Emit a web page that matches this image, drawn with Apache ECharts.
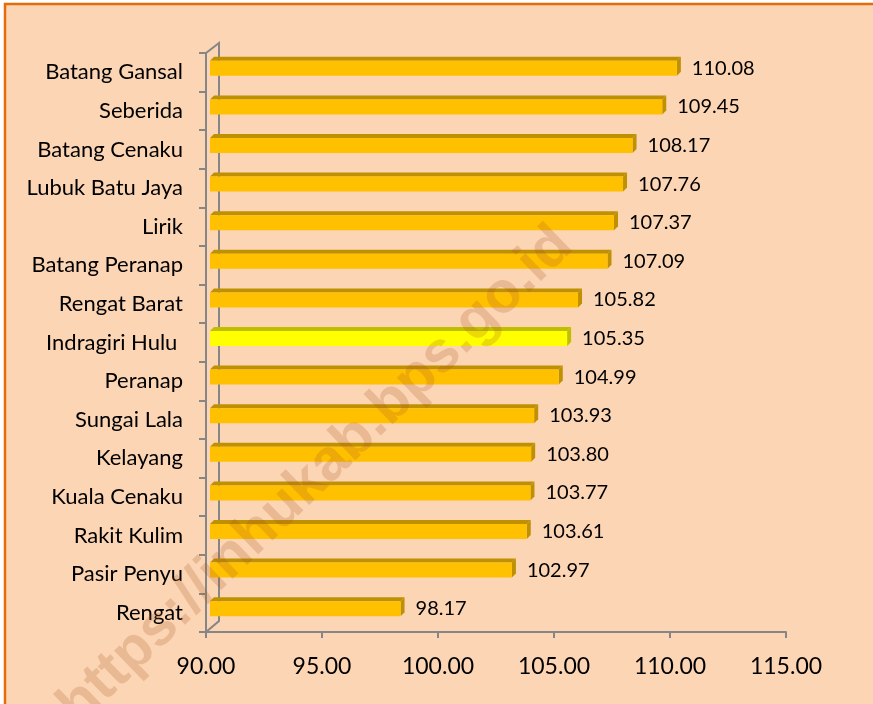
<!DOCTYPE html>
<html>
<head>
    <meta charset="UTF-8">
    <title>Indragiri Hulu</title>
    <style>
        html,body{margin:0;padding:0;background:#fff;}
        #barChart{width:873px;height:704px;}
    </style>
</head>
<body>
<div id="barChart"></div>
<script src="https://cdn.jsdelivr.net/npm/echarts@6/dist/echarts.min.js"></script>
<script>
    // kecamatan, dari atas ke bawah
    var categories = ['Batang Gansal','Seberida','Batang Cenaku','Lubuk Batu Jaya','Lirik','Batang Peranap',
        'Rengat Barat','Indragiri Hulu ','Peranap','Sungai Lala','Kelayang','Kuala Cenaku','Rakit Kulim','Pasir Penyu','Rengat'];
    var values = [110.08,109.45,108.17,107.76,107.37,107.09,105.82,105.35,104.99,103.93,103.80,103.77,103.61,102.97,98.17];
    var highlight = 'Indragiri Hulu ';
    var axisMin = 90, axisMax = 115, axisStep = 5;

    var myChart = echarts.init(document.getElementById('barChart'));

    function renderBar(params, api){
        var val = api.value(0);
        var cat = api.value(1);
        var p0 = api.coord([axisMin, cat]);
        var p1 = api.coord([val, cat]);
        var h = 15, d = 4;
        var x0 = p0[0] + 4, x1 = p1[0] + 5;
        var y0 = p0[1] - 11.5;
        var hot = categories[cat] === highlight;
        var front = hot ? '#FFFF00' : '#FFC000';
        var dark = hot ? '#BFBF00' : '#BF9000';
        return {
            type: 'group',
            children: [
                {type: 'polygon', shape: {points: [[x0, y0], [x0 + d, y0 - d], [x1 + d, y0 - d], [x1, y0]]}, style: {fill: dark}},
                {type: 'polygon', shape: {points: [[x1, y0], [x1 + d, y0 - d], [x1 + d, y0 + h - d], [x1, y0 + h]]}, style: {fill: dark}},
                {type: 'rect', shape: {x: x0, y: y0, width: x1 - x0, height: h}, style: {fill: front}},
                {type: 'text', x: x1 + d + 11, y: y0 + h / 2, style: {
                    text: val.toFixed(2), fill: '#000', font: '20px Lato', align: 'left', verticalAlign: 'middle'}}
            ]
        };
    }

    var barData = values.map(function(v, i){ return [v, categories[i]]; });

    var option = {
        backgroundColor: '#fff',
        animation: false,
        grid: {left: 206, right: 87, top: 53, bottom: 72},
        xAxis: {
            type: 'value',
            min: axisMin, max: axisMax, interval: axisStep,
            axisLine: {show: true, lineStyle: {color: '#868686', width: 2}},
            axisTick: {show: true, length: 6, lineStyle: {color: '#868686', width: 2}},
            splitLine: {show: false},
            axisLabel: {color: '#000', fontSize: 23, fontFamily: 'Lato', margin: 23,
                formatter: function(v){ return v.toFixed(2); }}
        },
        yAxis: {
            type: 'category',
            inverse: true,
            data: categories,
            axisLine: {show: true, lineStyle: {color: '#868686', width: 2}},
            axisTick: {show: true, length: 7, lineStyle: {color: '#868686', width: 2}},
            axisLabel: {color: '#000', fontSize: 22, fontFamily: 'Lato', margin: 23}
        },
        series: [{
            type: 'custom',
            renderItem: renderBar,
            encode: {x: 0, y: 1},
            data: barData,
            z: 5
        }]
    };
    myChart.setOption(option);

    // dinding 3D dan bingkai
    var corner = myChart.convertToPixel({gridIndex: 0}, [axisMin, 0]);
    var pTop = [corner[0], 53], pBot = [corner[0], 632];
    myChart.setOption({
        graphic: [
            {type: 'rect', z: -10, shape: {x: 5, y: 4, width: 900, height: 760},
                style: {fill: '#FCD5B5', stroke: '#E46C0A', lineWidth: 2.5}},
            {type: 'polyline', z: 1, shape: {points: [pTop, [pTop[0] + 13, pTop[1] - 10], [pBot[0] + 13, pBot[1] - 11], pBot]},
                style: {fill: null, stroke: '#868686', lineWidth: 2}},
            {type: 'text', z: 100, x: 316, y: 476, rotation: 44 * Math.PI / 180,
                style: {text: 'https://inhukab.bps.go.id', font: 'bold 58px "Liberation Sans"', fill: 'rgba(170,85,30,0.22)',
                    align: 'center', verticalAlign: 'middle'}}
        ]
    });
</script>
</body>
</html>
